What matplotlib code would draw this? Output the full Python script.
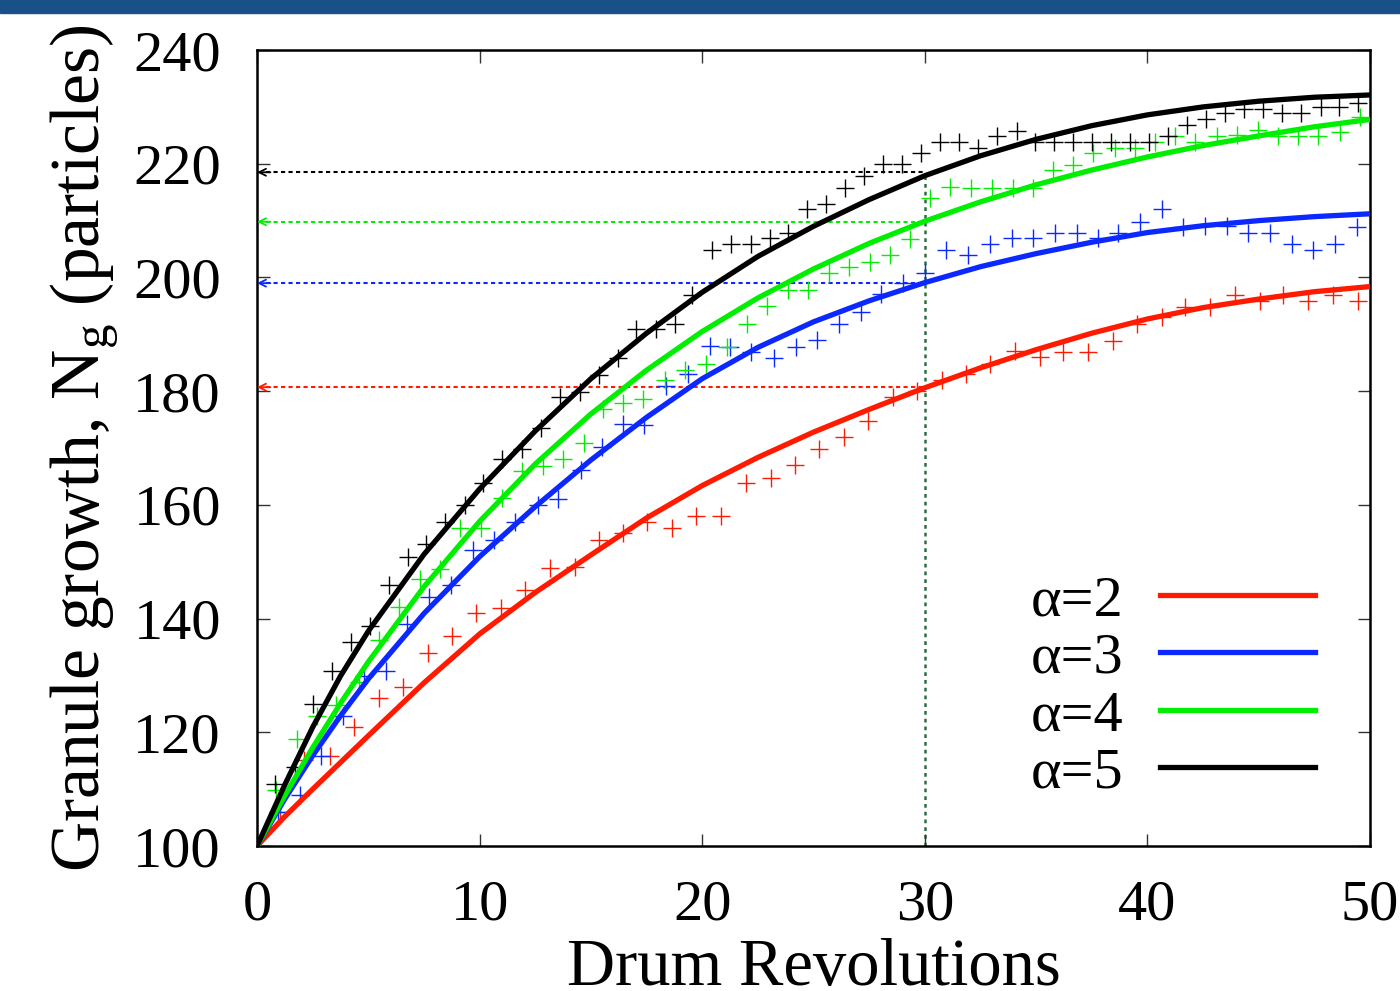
import numpy as np
import matplotlib
matplotlib.use("Agg")
import matplotlib.pyplot as plt
from matplotlib.patches import Rectangle

plt.rcParams['font.family'] = ['Liberation Serif', 'DejaVu Serif']
plt.rcParams['mathtext.fontset'] = 'custom'
plt.rcParams['mathtext.rm'] = 'Liberation Serif'
plt.rcParams['mathtext.it'] = 'Liberation Serif:italic'

# measured points (drum revolutions, particles)
x_a2 = [1.01, 2.1, 3.26, 4.37, 5.48, 6.57, 7.68, 8.76, 9.85, 10.97, 12.04, 13.15, 14.27, 15.34, 16.44,
        17.52, 18.62, 19.74, 20.85, 21.96, 23.07, 24.16, 25.25, 26.36, 27.45, 28.55, 29.63, 30.75, 31.87,
        32.92, 34.04, 35.17, 36.22, 37.34, 38.46, 39.52, 40.64, 41.69, 42.81, 43.93, 45.06, 46.1, 47.23,
        48.35, 49.47]
y_a2 = [106.0, 115.1, 115.8, 121.0, 126.0, 128.0, 133.9, 136.9, 140.9, 141.8, 145.0, 148.9, 149.0, 153.8,
        155.0, 157.0, 155.9, 158.0, 158.0, 163.9, 164.8, 167.0, 169.9, 171.9, 174.8, 179.0, 180.0, 182.0,
        183.1, 184.8, 187.1, 186.0, 186.9, 186.9, 188.9, 191.9, 193.0, 194.8, 194.8, 196.9, 195.9, 196.9,
        195.9, 196.9, 195.9]

x_a3 = [0.94, 1.91, 2.89, 3.86, 4.8, 5.81, 6.75, 7.71, 8.73, 9.7, 10.63, 11.57, 12.62, 13.52, 14.54, 15.5,
        16.44, 17.38, 18.39, 19.36, 20.33, 21.24, 22.21, 23.21, 24.2, 25.16, 26.15, 27.11, 28.05, 29.03,
        30.0, 30.97, 31.95, 32.92, 33.9, 34.87, 35.84, 36.82, 37.79, 38.69, 39.66, 40.66, 41.61, 42.58,
        43.56, 44.53, 45.51, 46.48, 47.45, 48.43, 49.4]
y_a3 = [106.0, 109.0, 115.8, 122.9, 129.9, 130.8, 139.0, 143.8, 145.9, 152.0, 153.9, 157.0, 160.0, 161.0,
        166.1, 170.1, 174.2, 174.0, 180.9, 183.0, 187.9, 187.8, 186.9, 185.9, 187.8, 189.0, 191.9, 194.0,
        197.1, 199.1, 200.8, 204.9, 203.9, 205.9, 206.9, 206.9, 207.9, 207.9, 206.9, 207.9, 209.8, 212.0,
        208.9, 209.0, 209.0, 207.9, 207.9, 205.9, 204.8, 205.9, 208.9]

x_a4 = [0.86, 1.79, 2.69, 3.56, 4.56, 5.46, 6.36, 7.3, 8.2, 9.13, 10.07, 11.0, 11.92, 12.85, 13.74, 14.67,
        15.55, 16.46, 17.36, 18.31, 19.24, 20.16, 21.09, 22.01, 22.93, 23.86, 24.75, 25.7, 26.6, 27.53,
        28.43, 29.33, 30.24, 31.15, 32.07, 33.03, 33.94, 34.84, 35.77, 36.67, 37.56, 38.54, 39.44, 40.34,
        41.24, 42.13, 43.11, 44.01, 44.98, 45.88, 46.78, 47.68, 48.65, 49.55]
y_a4 = [109.8, 118.9, 122.9, 124.8, 128.9, 136.2, 142.1, 146.9, 148.8, 155.9, 155.9, 161.2, 166.0, 166.8,
        168.0, 170.9, 176.8, 178.0, 178.7, 182.0, 183.8, 184.8, 187.8, 191.9, 194.9, 197.8, 197.8, 200.7,
        201.9, 202.8, 203.9, 206.8, 213.9, 215.9, 215.8, 215.8, 215.8, 215.8, 218.9, 219.8, 221.9, 222.8,
        222.8, 223.9, 224.8, 223.9, 224.8, 225.0, 225.9, 224.8, 224.8, 224.8, 225.6, 228.3]

x_a5 = [0.82, 1.69, 2.51, 3.38, 4.23, 5.06, 5.92, 6.78, 7.6, 8.46, 9.33, 10.15, 11.0, 11.9, 12.77, 13.6,
        14.49, 15.36, 16.22, 17.04, 17.91, 18.76, 19.56, 20.44, 21.31, 22.17, 23.03, 23.86, 24.71, 25.58,
        26.4, 27.26, 28.1, 28.98, 29.82, 30.67, 31.54, 32.4, 33.25, 34.12, 34.94, 35.8, 36.64, 37.49, 38.35,
        39.21, 40.08, 40.93, 41.79, 42.63, 43.48, 44.34, 45.2, 46.06, 46.91, 47.78, 48.62, 49.48]
y_a5 = [110.9, 113.9, 125.0, 130.8, 135.9, 138.7, 145.9, 150.9, 153.1, 157.0, 160.0, 163.8, 168.0, 169.8,
        173.6, 179.0, 179.9, 182.8, 185.8, 190.9, 190.9, 191.8, 196.9, 204.8, 205.8, 205.8, 207.0, 207.9,
        212.0, 212.9, 215.8, 217.8, 219.9, 219.9, 221.9, 223.9, 223.9, 222.7, 224.9, 225.8, 223.9, 223.9,
        223.9, 223.9, 223.9, 223.9, 223.9, 224.8, 226.9, 227.8, 229.0, 229.6, 229.6, 228.9, 228.9, 229.9,
        229.9, 230.7]

# model curves
curve_x = [0, 1.25, 2.5, 3.75, 5, 7.5, 10, 12.5, 15, 17.5, 20, 22.5, 25, 27.5, 30, 32.5, 35, 37.5, 40,
           42.5, 45, 47.5, 50]
fit_a2 = [100, 105.2, 110.0, 114.7, 119.4, 128.7, 137.3, 144.6, 151.2, 157.7, 163.4, 168.35, 172.8, 176.8,
          180.6, 184.1, 187.3, 190.2, 192.7, 194.7, 196.2, 197.5, 198.4]
fit_a3 = [100, 108.3, 115.9, 122.9, 129.4, 140.9, 150.9, 159.7, 167.9, 175.4, 182.2, 187.7, 192.2, 195.9,
          199.1, 201.9, 204.2, 206.2, 207.9, 209.1, 210.0, 210.7, 211.2]
fit_a4 = [100, 108.9, 117.3, 125.1, 132.4, 145.6, 157.1, 167.2, 176.0, 183.7, 190.5, 196.4, 201.5, 206.0,
          209.9, 213.3, 216.3, 218.9, 221.2, 223.2, 224.9, 226.5, 227.8]
fit_a5 = [100, 110.8, 120.9, 129.9, 137.8, 151.3, 162.8, 173.0, 182.2, 190.2, 197.4, 203.7, 209.0, 213.7,
          217.9, 221.4, 224.3, 226.7, 228.6, 230.0, 231.0, 231.7, 232.1]

labels = ['α=2', 'α=3', 'α=4', 'α=5']
colors = ['#ff1a00', '#0a28ff', '#00ee00', '#000000']
x_mark = 30
level_at_30 = [180.7, 199.0, 209.8, 218.5]

fig = plt.figure(figsize=(14, 9.91), dpi=100)
fig.patches.append(Rectangle((0, 1 - 13 / 991), 1, 13 / 991, transform=fig.transFigure,
                             color='#1a5088', zorder=5))
ax = fig.add_axes([0.1836, 0.1463, 0.795, 0.8032])

pts = [(x_a2, y_a2), (x_a3, y_a3), (x_a4, y_a4), (x_a5, y_a5)]
fits = [fit_a2, fit_a3, fit_a4, fit_a5]

for i in range(4):
    ax.plot(pts[i][0], pts[i][1], linestyle='none', marker='+', ms=13, mew=1.0,
            color=colors[i], zorder=2)

# dotted guides at 30 revolutions
for i in range(4):
    ax.plot([0.4, x_mark], [level_at_30[i], level_at_30[i]], linestyle=(0, (2, 1.6)), lw=1.5,
            color=colors[i], zorder=1)
    ax.annotate('', xy=(0, level_at_30[i]), xytext=(0.6, level_at_30[i]),
                arrowprops=dict(arrowstyle='->,head_length=0.5,head_width=0.25', lw=1.3,
                                color=colors[i], shrinkA=0, shrinkB=0))
ax.plot([x_mark, x_mark], [100, level_at_30[3]], linestyle=(0, (1.5, 1.6)), lw=1.8,
        color='#2e6e40', zorder=1)

for i in range(4):
    ax.plot(curve_x, fits[i], color=colors[i], lw=3.8, label=labels[i], zorder=3)

ax.set_xlim(0, 50)
ax.set_ylim(100, 240)
ax.set_xticks([0, 10, 20, 30, 40, 50])
ax.set_yticks([100, 120, 140, 160, 180, 200, 220, 240])
ax.tick_params(direction='in', length=9, width=1, color='#333333', labelsize=42,
               top=True, right=True)
ax.tick_params(axis='y', pad=26)
ax.tick_params(axis='x', pad=24)
for s in ax.spines.values():
    s.set_linewidth(1.8)

ax.set_xlabel('Drum Revolutions', fontsize=48, labelpad=5)
ax.set_ylabel('Granule growth, N$_{\\rm g}$ (particles)', fontsize=50, labelpad=9)

ax.legend(loc='lower right', bbox_to_anchor=(0.9506, 0.058), frameon=False, markerfirst=False,
          fontsize=42, handlelength=2.66, handletextpad=0.62, labelspacing=0.08,
          borderpad=0, borderaxespad=0)

fig.savefig('out.png', dpi=100)
